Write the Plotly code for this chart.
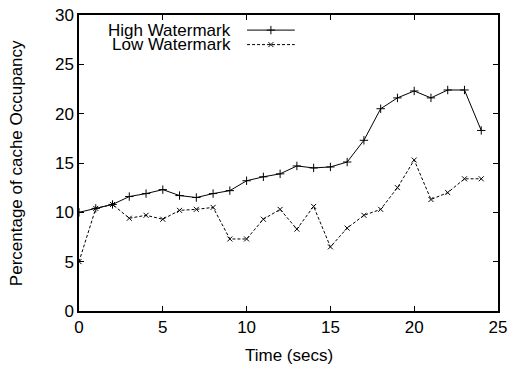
import plotly.graph_objects as go

time_s = list(range(25))
high_wm = [10.0, 10.4, 10.8, 11.6, 11.9, 12.3, 11.7, 11.5, 11.9, 12.2, 13.2, 13.6, 13.9,
           14.7, 14.5, 14.6, 15.1, 17.3, 20.5, 21.6, 22.3, 21.6, 22.4, 22.4, 18.3]
low_wm = [5.0, 10.4, 10.8, 9.4, 9.7, 9.3, 10.2, 10.3, 10.5, 7.3, 7.3, 9.3, 10.3,
          8.3, 10.6, 6.5, 8.4, 9.7, 10.3, 12.5, 15.3, 11.3, 12.0, 13.4, 13.4]
series_names = ["High Watermark", "Low Watermark"]
x_ticks = [0, 5, 10, 15, 20, 25]
y_ticks = [0, 5, 10, 15, 20, 25, 30]
x_title = "Time (secs)"
y_title = "Percentage of cache Occupancy"

FONT = "Liberation Sans, Arial, Helvetica, sans-serif"
FS = 17
fig = go.Figure()
fig.add_trace(go.Scatter(x=time_s, y=high_wm, mode="lines+markers", name=series_names[0],
                         line=dict(color="black", width=1),
                         marker=dict(symbol="cross-thin", size=6, color="black",
                                     line=dict(width=1, color="black")),
                         showlegend=False))
fig.add_trace(go.Scatter(x=time_s, y=low_wm, mode="lines+markers", name=series_names[1],
                         line=dict(color="black", width=1, dash="3px,2px"),
                         marker=dict(symbol="x-thin", size=5, color="black",
                                     line=dict(width=1, color="black")),
                         showlegend=False))

# gnuplot-style key: text right-aligned, sample to its right
key_rows = [0.949, 0.900]
key_x0, key_x1, key_text = 0.401, 0.515, 0.3675
for name, yk, dash, sym, sz in zip(series_names, key_rows, ["solid", "3px,2px"],
                                    ["cross-thin", "x-thin"], [6, 5]):
    fig.add_annotation(x=key_text, y=yk, xref="paper", yref="paper", text=name,
                       showarrow=False, xanchor="right", yanchor="middle",
                       font=dict(family=FONT, size=FS, color="black"))
    fig.add_trace(go.Scatter(x=[key_x0, key_x1], y=[yk, yk],
                             xaxis="x2", yaxis="y2", mode="lines",
                             line=dict(color="black", width=1, dash=dash),
                             showlegend=False, hoverinfo="skip"))
    fig.add_trace(go.Scatter(x=[(key_x0 + key_x1) / 2], y=[yk],
                             xaxis="x2", yaxis="y2", mode="markers",
                             marker=dict(symbol=sym, size=sz, color="black",
                                         line=dict(width=1, color="black")),
                             showlegend=False, hoverinfo="skip"))

# axis titles as annotations for exact placement
fig.add_annotation(x=0.5, y=-0.149, xref="paper", yref="paper", text=x_title,
                   showarrow=False, xanchor="center", yanchor="middle",
                   font=dict(family=FONT, size=FS, color="black"))
fig.add_annotation(x=-0.150, y=0.5, xref="paper", yref="paper", text=y_title,
                   showarrow=False, xanchor="center", yanchor="middle", textangle=-90,
                   font=dict(family=FONT, size=FS, color="black"))

axis_common = dict(showgrid=False, zeroline=False, showline=True, linecolor="black",
                   linewidth=1.5, mirror="allticks", ticks="inside", ticklen=5,
                   tickcolor="black", tickwidth=1, automargin=False,
                   tickfont=dict(family=FONT, size=FS, color="black"))
fig.update_layout(
    width=510, height=366,
    margin=dict(l=79, r=12, t=15, b=55),
    paper_bgcolor="white", plot_bgcolor="white",
    xaxis=dict(range=[0, 25], tickvals=x_ticks, **axis_common),
    yaxis=dict(range=[0, 30], tickvals=y_ticks, **axis_common),
    xaxis2=dict(overlaying="x", range=[0, 1], visible=False, anchor="y2"),
    yaxis2=dict(overlaying="y", range=[0, 1], visible=False, anchor="x2"),
)
fig.write_html("out.html")
